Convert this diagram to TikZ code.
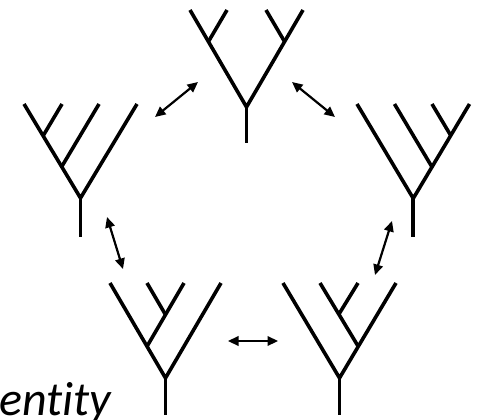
\documentclass[tikz,border=0pt]{standalone}
\usepackage{fontspec}
\setmainfont[Ligatures=NoCommon]{Carlito}
\usetikzlibrary{arrows.meta}

\tikzset{
  branch/.style={line width=3.6pt, line cap=butt, line join=miter},
  swap/.style={line width=2.2pt, {Triangle[length=10.5pt,width=9.5pt]}-{Triangle[length=10.5pt,width=9.5pt]}},
  caption/.style={anchor=base west, inner sep=0pt, font=\fontsize{48}{52}\selectfont\itshape}
}

\begin{document}
\begin{tikzpicture}[x=1pt,y=-1pt]
  \useasboundingbox (0,0) rectangle (479,420);
  \clip (0,0) rectangle (479,420);

  % top tree: ((a,b),(c,d))
  \coordinate (ta) at (190,10);   \coordinate (tb) at (227,10);
  \coordinate (tc) at (266,10);   \coordinate (td) at (303,10);
  \coordinate (tab) at (208.5,41.5); \coordinate (tcd) at (284.5,41.5);
  \coordinate (tr) at (246.5,107);   \coordinate (ts) at (246.5,143);
  \draw[branch] (ta) -- (tr) -- (td);
  \draw[branch] (tb) -- (tab);
  \draw[branch] (tc) -- (tcd);
  \draw[branch] (tr) -- (ts);

  % left tree: (((a,b),c),d)
  \coordinate (la) at (24,104);  \coordinate (lb) at (62,104);
  \coordinate (lc) at (99,104);  \coordinate (ld) at (137,104);
  \coordinate (lab) at (43,136); \coordinate (labc) at (61.5,167);
  \coordinate (lr) at (80.5,198); \coordinate (ls) at (80.5,237);
  \draw[branch] (la) -- (lr) -- (ld);
  \draw[branch] (lb) -- (lab);
  \draw[branch] (lc) -- (labc);
  \draw[branch] (lr) -- (ls);

  % right tree: (a,(b,(c,d)))
  \coordinate (ra) at (357,104);  \coordinate (rb) at (394.5,104);
  \coordinate (rc) at (432,104);  \coordinate (rd) at (469.5,104);
  \coordinate (rcd) at (450.75,135.5); \coordinate (rbcd) at (432,167);
  \coordinate (rr) at (413.25,198.4); \coordinate (rs) at (413.25,237);
  \draw[branch] (ra) -- (rr) -- (rd);
  \draw[branch] (rc) -- (rcd);
  \draw[branch] (rb) -- (rbcd);
  \draw[branch] (rr) -- (rs);

  % bottom-left tree: ((a,(b,c)),d)
  \coordinate (pa) at (110,283);  \coordinate (pb) at (147,283);
  \coordinate (pc) at (184,283);  \coordinate (pd) at (221,283);
  \coordinate (pbc) at (165.5,314.7); \coordinate (pabc) at (147,346.4);
  \coordinate (pr) at (165.5,378); \coordinate (ps) at (165.5,415);
  \draw[branch] (pa) -- (pr) -- (pd);
  \draw[branch] (pb) -- (pbc);
  \draw[branch] (pc) -- (pabc);
  \draw[branch] (pr) -- (ps);

  % bottom-right tree: (a,((b,c),d))
  \coordinate (qa) at (283,283);  \coordinate (qb) at (320,283);
  \coordinate (qc) at (358,283);  \coordinate (qd) at (396,283);
  \coordinate (qbc) at (339,314); \coordinate (qbcd) at (358,346);
  \coordinate (qr) at (339.5,378); \coordinate (qs) at (339.5,415);
  \draw[branch] (qa) -- (qr) -- (qd);
  \draw[branch] (qc) -- (qbc);
  \draw[branch] (qb) -- (qbcd);
  \draw[branch] (qr) -- (qs);

  % rotations between neighbouring shapes
  \coordinate (s1a) at (155,117); \coordinate (s1b) at (198,82);
  \coordinate (s2a) at (292,82);  \coordinate (s2b) at (335,117);
  \coordinate (s3a) at (107,217); \coordinate (s3b) at (123,269);
  \coordinate (s4a) at (392,221); \coordinate (s4b) at (375,275);
  \coordinate (s5a) at (228,341); \coordinate (s5b) at (278,341);
  \draw[swap] (s1a) -- (s1b);
  \draw[swap] (s2a) -- (s2b);
  \draw[swap] (s3a) -- (s3b);
  \draw[swap] (s4a) -- (s4b);
  \draw[swap] (s5a) -- (s5b);

  \node[caption] (cap) at (-1,415) {entity};
\end{tikzpicture}
\end{document}
